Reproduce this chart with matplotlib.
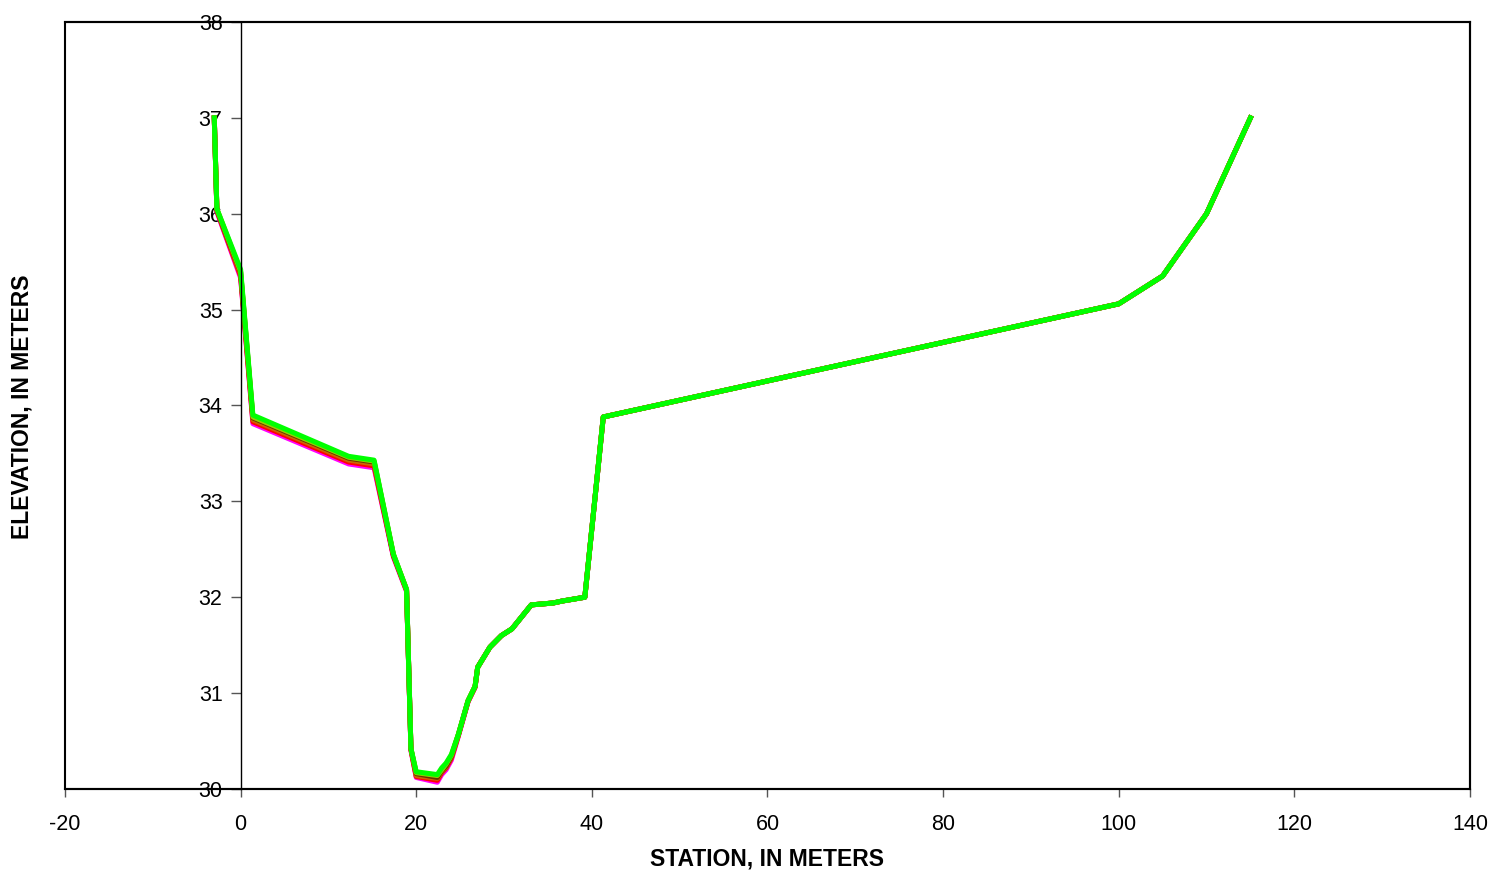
import matplotlib
matplotlib.use('Agg')
import matplotlib.pyplot as plt
from matplotlib.patches import Rectangle

plt.rcParams['font.family'] = ['Liberation Sans', 'DejaVu Sans']
plt.rcParams['axes.unicode_minus'] = False

# cross-section surveys, station (m) vs elevation (m)
station = [-3.0, -2.7, 0.0, 1.4, 12.3, 15.2, 17.4, 18.9, 19.4, 20.0, 22.4, 22.9,
           23.4, 24.0, 24.8, 25.9, 26.7, 27.0, 28.4, 29.7, 30.9, 33.1, 35.6, 36.6,
           39.2, 41.3, 100.0, 105.0, 110.0, 115.0]

elev_magenta = [37.0, 36.02, 35.33, 33.81, 33.39, 33.35, 32.42, 32.06, 30.40, 30.12,
                30.07, 30.15, 30.20, 30.30, 30.55, 30.91, 31.06, 31.27, 31.48, 31.60,
                31.67, 31.92, 31.94, 31.96, 32.00, 33.88, 35.06, 35.35, 36.0, 37.0]
elev_red = [37.0, 36.03, 35.35, 33.83, 33.41, 33.37, 32.43, 32.07, 30.41, 30.13,
            30.09, 30.17, 30.22, 30.32, 30.56, 30.91, 31.06, 31.27, 31.48, 31.60,
            31.67, 31.92, 31.94, 31.96, 32.00, 33.88, 35.06, 35.35, 36.0, 37.0]
elev_orange = [37.0, 36.04, 35.37, 33.85, 33.43, 33.39, 32.44, 32.07, 30.41, 30.14,
               30.11, 30.18, 30.23, 30.33, 30.56, 30.92, 31.07, 31.27, 31.48, 31.60,
               31.67, 31.92, 31.94, 31.96, 32.00, 33.88, 35.06, 35.35, 36.0, 37.0]
elev_brown = [37.0, 36.04, 35.39, 33.87, 33.45, 33.41, 32.44, 32.08, 30.42, 30.16,
              30.12, 30.19, 30.24, 30.34, 30.57, 30.92, 31.07, 31.27, 31.48, 31.60,
              31.67, 31.92, 31.94, 31.96, 32.00, 33.88, 35.06, 35.35, 36.0, 37.0]
elev_olive = [37.0, 36.05, 35.40, 33.88, 33.46, 33.42, 32.45, 32.08, 30.42, 30.17,
              30.14, 30.20, 30.26, 30.35, 30.57, 30.92, 31.07, 31.27, 31.48, 31.60,
              31.67, 31.92, 31.94, 31.96, 32.00, 33.88, 35.06, 35.35, 36.0, 37.0]
elev_green = [37.0, 36.05, 35.42, 33.90, 33.47, 33.43, 32.45, 32.08, 30.42, 30.18,
              30.15, 30.22, 30.27, 30.36, 30.57, 30.92, 31.07, 31.27, 31.48, 31.60,
              31.67, 31.92, 31.94, 31.96, 32.00, 33.88, 35.06, 35.35, 36.0, 37.0]

xticks = [-20, 0, 20, 40, 60, 80, 100, 120, 140]
yticks = [30, 31, 32, 33, 34, 35, 36, 37, 38]

fig = plt.figure(figsize=(14.94, 8.72), dpi=100)
ax = fig.add_axes([0.0435, 0.0952, 0.9404, 0.8796])

ax.plot(station, elev_magenta, color='#FF00FF', lw=3.6)
ax.plot(station, elev_red, color='#FF0000', lw=3.6)
ax.plot(station, elev_orange, color='#CC6600', lw=3.6)
ax.plot(station, elev_brown, color='#663300', lw=3.6)
ax.plot(station, elev_olive, color='#99CC00', lw=3.6)
ax.plot(station, elev_green, color='#00FF00', lw=3.6)

ax.set_xlim(-20, 140)
ax.set_ylim(30, 38)
ax.set_xticks(xticks)
ax.set_yticks(yticks)

# y axis crosses at station 0, box drawn around plot area
ax.spines['left'].set_position(('data', 0))
ax.spines['left'].set_linewidth(1.0)
for s in ['top', 'right', 'bottom']:
    ax.spines[s].set_linewidth(1.5)
ax.add_patch(Rectangle((0, 0), 1, 1, transform=ax.transAxes, fill=False,
                       lw=1.5, ec='black', clip_on=False, zorder=5))

ax.tick_params(axis='y', direction='out', length=7, width=1, color='#555555',
               labelsize=15.5, pad=6)
ax.tick_params(axis='x', direction='out', length=6, width=1, color='#555555',
               labelsize=15.5, pad=12)

fig.text(0.5134, 0.0149, 'STATION, IN METERS', fontsize=16.5, fontweight='bold',
         ha='center', va='center')
fig.text(0.0147, 0.534, 'ELEVATION, IN METERS', fontsize=16.5, fontweight='bold',
         rotation=90, ha='center', va='center')

fig.savefig('out.png', dpi=100)
